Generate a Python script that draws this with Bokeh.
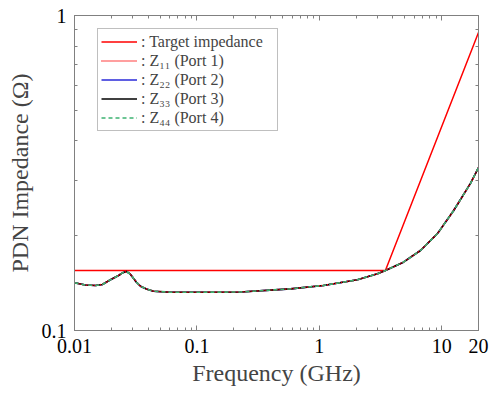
from bokeh.plotting import figure
from bokeh.models import (LogAxis, FixedTicker, Range1d, Legend, LegendItem,
                          CustomJSTickFormatter, ColumnDataSource)
from bokeh.embed import file_html
from bokeh.resources import INLINE

# ---- data ----
freq_ghz = [0.01, 0.0123, 0.01485, 0.0169, 0.01968, 0.0229, 0.0247, 0.0266,
            0.0286, 0.0321, 0.0346, 0.0387, 0.0442, 0.0608, 0.107, 0.227,
            0.582, 1.082, 2.05, 2.99, 3.47, 4.87, 6.71, 9.24, 12.5, 17.2, 20.0]
z11 = [0.1417, 0.1394, 0.139, 0.1400, 0.1449, 0.1495, 0.1524, 0.1539,
       0.1509, 0.1423, 0.1382, 0.1354, 0.1333, 0.1323, 0.1323, 0.1325,
       0.1356, 0.139, 0.1449, 0.1514, 0.155, 0.1648, 0.1795, 0.203, 0.240,
       0.293, 0.329]
z22 = list(z11)
z33 = list(z11)
z44 = list(z11)

target_freq = [0.01, 3.47, 20.0]
target_z = [0.155, 0.155, 0.883]

x_ticks = [0.01, 0.1, 1.0, 10.0, 20.0]
x_labels = ["0.01", "0.1", "1", "10", "20"]
x_minor = [0.02, 0.03, 0.04, 0.05, 0.06, 0.07, 0.08, 0.09,
           0.2, 0.3, 0.4, 0.5, 0.6, 0.7, 0.8, 0.9,
           2.0, 3.0, 4.0, 5.0, 6.0, 7.0, 8.0, 9.0]
y_ticks = [0.1, 1.0]
y_labels = ["0.1", "1"]
y_minor = [0.2, 0.3, 0.4, 0.5, 0.6, 0.7, 0.8, 0.9]

legend_labels = [": Target impedance", ": Z\u2081\u2081 (Port 1)", ": Z\u2082\u2082 (Port 2)",
                 ": Z\u2083\u2083 (Port 3)", ": Z\u2084\u2084 (Port 4)"]

FONT = "'Liberation Serif', 'Times New Roman', serif"
GREY = "#808080"

p = figure(width=490, height=394, x_axis_type="log", y_axis_type="log",
           x_range=Range1d(0.01, 20), y_range=Range1d(0.1, 1),
           output_backend="svg", toolbar_location=None,
           min_border_left=74, min_border_right=12, min_border_top=15,
           min_border_bottom=64)
p.xgrid.visible = False
p.ygrid.visible = False
p.outline_line_color = GREY
p.outline_line_width = 1
p.background_fill_color = "white"
p.border_fill_color = "white"

JS = "const i = tk.indexOf(tick); return i >= 0 ? lb[i] : '';"
fmt_x = CustomJSTickFormatter(args=dict(tk=x_ticks, lb=x_labels), code=JS)
fmt_y = CustomJSTickFormatter(args=dict(tk=y_ticks, lb=y_labels), code=JS)
fmt_blank = CustomJSTickFormatter(code="return '';")


def style_axis(ax, show_labels):
    ax.axis_line_color = GREY
    ax.major_tick_line_color = GREY
    ax.minor_tick_line_color = GREY
    ax.major_tick_in = 5
    ax.major_tick_out = 0
    ax.minor_tick_in = 3
    ax.minor_tick_out = 0
    ax.major_label_text_font = FONT
    ax.major_label_text_color = "black"
    ax.major_label_text_font_size = "20px"
    if not show_labels:
        ax.major_label_standoff = 0


xb = p.xaxis[0]
xb.ticker = FixedTicker(ticks=x_ticks, minor_ticks=x_minor)
xb.formatter = fmt_x
style_axis(xb, True)
xb.major_label_standoff = 8
xb.axis_label = "Frequency (GHz)"
xb.axis_label_text_font = FONT
xb.axis_label_text_font_size = "24px"
xb.axis_label_text_font_style = "normal"
xb.axis_label_standoff = 4

yl = p.yaxis[0]
yl.ticker = FixedTicker(ticks=y_ticks, minor_ticks=y_minor)
yl.formatter = fmt_y
style_axis(yl, True)
yl.major_label_standoff = 8
yl.axis_label = "PDN Impedance (\u03a9)"
yl.axis_label_text_font = FONT
yl.axis_label_text_font_size = "24px"
yl.axis_label_text_font_style = "normal"
yl.axis_label_standoff = 6

xt = LogAxis(ticker=FixedTicker(ticks=x_ticks, minor_ticks=x_minor), formatter=fmt_blank)
style_axis(xt, False)
p.add_layout(xt, "above")
yr = LogAxis(ticker=FixedTicker(ticks=y_ticks, minor_ticks=y_minor), formatter=fmt_blank)
style_axis(yr, False)
p.add_layout(yr, "right")

src = ColumnDataSource(dict(f=freq_ghz, z11=z11, z22=z22, z33=z33, z44=z44))
tsrc = ColumnDataSource(dict(f=target_freq, z=target_z))

r_t = p.line("f", "z", source=tsrc, line_color="#ff0000", line_width=1.5)
r22 = p.line("f", "z22", source=src, line_color="#2a2ad8", line_width=1.6)
r33 = p.line("f", "z33", source=src, line_color="#000000", line_width=1.6)
r11 = p.line("f", "z11", source=src, line_color="#ff0000", line_width=1.6, line_dash="1 1")
r44 = p.line("f", "z44", source=src, line_color="#3cb371", line_width=1.6, line_dash="4 3")

legend = Legend(items=[LegendItem(label=legend_labels[0], renderers=[r_t]),
                       LegendItem(label=legend_labels[1], renderers=[r11]),
                       LegendItem(label=legend_labels[2], renderers=[r22]),
                       LegendItem(label=legend_labels[3], renderers=[r33]),
                       LegendItem(label=legend_labels[4], renderers=[r44])],
                location=(23, 199), margin=0, padding=3, spacing=0,
                glyph_width=36, glyph_height=19, label_height=19, label_width=133,
                label_standoff=4, label_text_font=FONT, label_text_font_size="16px",
                border_line_color=GREY, border_line_width=1,
                background_fill_color="white", background_fill_alpha=1)
p.add_layout(legend, "center")

open("out.html", "w").write(file_html(p, INLINE))
